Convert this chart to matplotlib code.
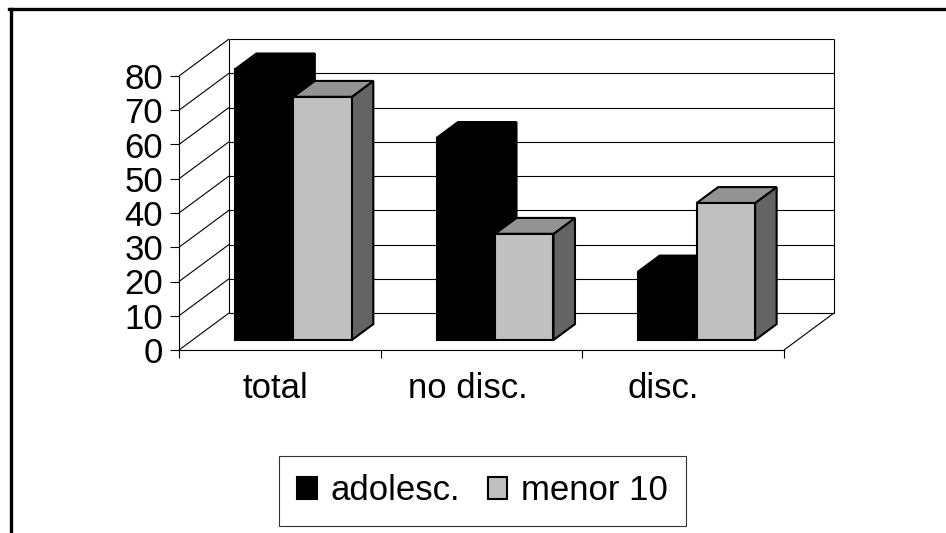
import matplotlib.pyplot as plt
from matplotlib.patches import Polygon, Patch
from matplotlib.lines import Line2D

plt.rcParams['font.family'] = ['Liberation Sans', 'DejaVu Sans']

categories = ['total', 'no disc.', 'disc.']
label_pos = [0.48, 1.43, 2.40]
adolesc = [79, 59, 20]
menor_10 = [71, 31, 40]
yticks = [0, 10, 20, 30, 40, 50, 60, 70, 80]

W, H = 946, 533
fig = plt.figure(figsize=(W / 100, H / 100), dpi=100)
fig.patch.set_facecolor('white')

# front plane of the 3d box, in pixels
left_px, right_px, base_px, top_px = 179, 784, 350, 76
ax = fig.add_axes([left_px / W, (H - base_px) / H,
                   (right_px - left_px) / W, (base_px - top_px) / H])
ax.set_xlim(0, 3)
ax.set_ylim(0, 80)
ax.set_facecolor('none')

# oblique depth offset (full depth) in data units
DX = 50 / (right_px - left_px) * 3
DY = 37 / (base_px - top_px) * 80


def proj(x, v, d):
    return (x + d * DX, v + d * DY)


def line3d(p, q, **kw):
    a = proj(*p)
    b = proj(*q)
    ax.plot([a[0], b[0]], [a[1], b[1]], color='black', lw=0.8,
            clip_on=False, solid_capstyle='butt', **kw)


# walls and gridlines
for v in yticks:
    line3d((0, v, 1), (3, v, 1))
    line3d((0, v, 0), (0, v, 1))
line3d((0, 0, 1), (0, 80, 1))
line3d((3, 0, 1), (3, 80, 1))
line3d((3, 0, 0), (3, 0, 1))

# bars
d0, d1 = 0.27, 0.70
bw = 0.29


def bar3d(x0, v, front, top, side):
    x1 = x0 + bw
    faces = [
        ([(x1, 0, d0), (x1, 0, d1), (x1, v, d1), (x1, v, d0)], side),
        ([(x0, v, d0), (x1, v, d0), (x1, v, d1), (x0, v, d1)], top),
        ([(x0, 0, d0), (x1, 0, d0), (x1, v, d0), (x0, v, d0)], front),
    ]
    for pts, col in faces:
        poly = Polygon([proj(*p) for p in pts], closed=True, facecolor=col,
                       edgecolor='black', lw=1.5, joinstyle='miter',
                       clip_on=False, zorder=3)
        ax.add_patch(poly)


for i in range(len(categories)):
    bar3d(i + 0.5 - bw, adolesc[i], 'black', 'black', 'black')
    bar3d(i + 0.5, menor_10[i], '#c0c0c0', '#939393', '#646464')

# axes look
for s in ['top', 'right']:
    ax.spines[s].set_visible(False)
for s in ['left', 'bottom']:
    ax.spines[s].set_linewidth(0.8)
ax.set_yticks(yticks)
ax.set_xticks([0, 1, 2, 3])
ax.set_xticklabels([])
ax.set_xticks(label_pos, minor=True)
ax.set_xticklabels(categories, minor=True)
ax.tick_params(axis='y', length=6.5, width=0.8, pad=5, labelsize=25)
ax.tick_params(axis='x', which='major', length=6, width=0.8, direction='out')
ax.tick_params(axis='x', which='minor', length=0, pad=16, labelsize=25)

# legend
handles = [Patch(facecolor='black', edgecolor='black', lw=1.5),
           Patch(facecolor='#c0c0c0', edgecolor='black', lw=1.5)]
leg = fig.legend(handles, ['adolesc.', 'menor 10'], loc='center',
                 bbox_to_anchor=(482.5 / W, (H - 491) / H), ncol=2,
                 fontsize=25, frameon=True, fancybox=False, shadow=False,
                 handlelength=0.55, handleheight=0.6, handletextpad=0.4,
                 columnspacing=0.8, borderpad=0.52, borderaxespad=0)
leg.get_frame().set_edgecolor('black')
leg.get_frame().set_linewidth(0.8)

# outer frame (top and left edges)
fig.add_artist(Line2D([10.5 / W, 10.5 / W], [0, (H - 8.5) / H],
                      color='black', lw=2.4, transform=fig.transFigure))
fig.add_artist(Line2D([9.3 / W, 1], [(H - 8.5) / H, (H - 8.5) / H],
                      color='black', lw=2.4, transform=fig.transFigure))

fig.savefig('out.png', dpi=100)
